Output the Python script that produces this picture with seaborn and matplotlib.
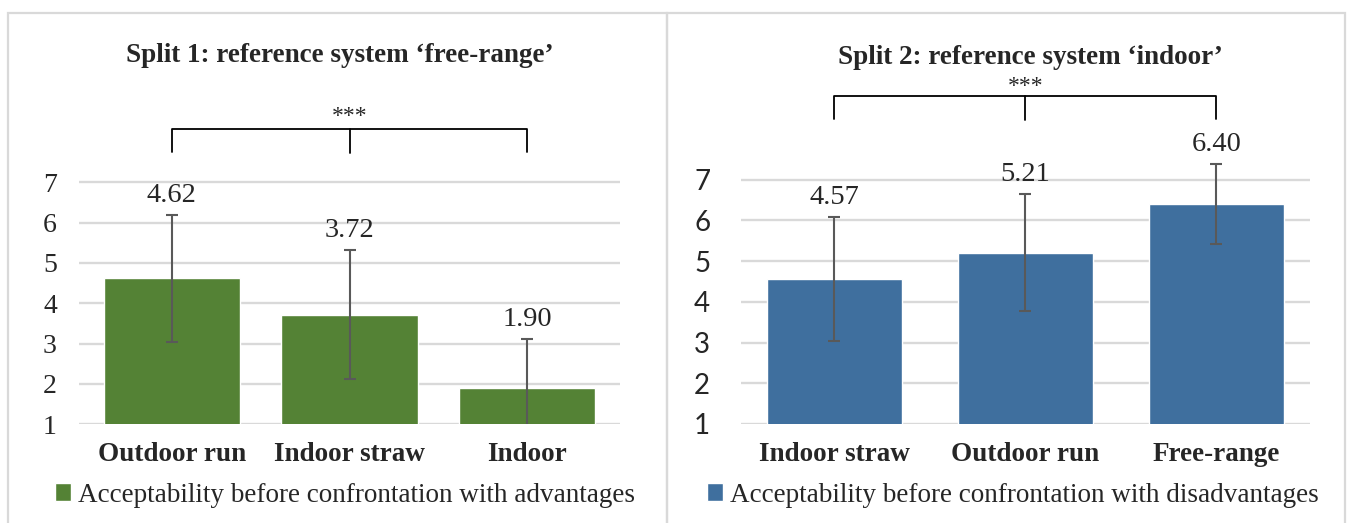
import matplotlib
matplotlib.use("Agg")
import matplotlib.pyplot as plt
from matplotlib.patches import Patch, Rectangle
import seaborn as sns

# ----------------------
# data
# ----------------------
split1_title = "Split 1: reference system \u2018free-range\u2019"
split1_cats = ["Outdoor run", "Indoor straw", "Indoor"]
split1_means = [4.62, 3.72, 1.90]
split1_sd = [1.57, 1.60, 1.21]
split1_legend = "Acceptability before confrontation with advantages"

split2_title = "Split 2: reference system \u2018indoor\u2019"
split2_cats = ["Indoor straw", "Outdoor run", "Free-range"]
split2_means = [4.57, 5.21, 6.40]
split2_sd = [1.52, 1.43, 0.99]
split2_legend = "Acceptability before confrontation with disadvantages"

y_ticks = [1, 2, 3, 4, 5, 6, 7]
sig_label = "***"

green = "#548235"
blue = "#3F6F9E"
err_col = "#595959"
grid_col = "#D9D9D9"

sns.set_style("white")
plt.rcParams["font.family"] = ["Liberation Serif", "DejaVu Serif"]

W, H = 1347, 523
fig = plt.figure(figsize=(W / 100, H / 100), dpi=100)


def px_axes(x0, x1, y_top, y_bot):
    return fig.add_axes([x0 / W, 1 - y_bot / H, (x1 - x0) / W, (y_bot - y_top) / H])


# panel frames
for x0, x1 in [(8, 667), (667, 1345)]:
    fig.patches.append(Rectangle((x0 / W, -0.05), (x1 - x0) / W, 1.05 - 13 / H,
                                 transform=fig.transFigure, fill=False,
                                 edgecolor=grid_col, lw=1.6))


def draw_panel(ax, cats, means, sd, color, width, bracket, tick_font, tick_pad):
    sns.barplot(x=cats, y=means, color=color, saturation=1, width=width,
                errorbar=None, ax=ax, zorder=2)
    ax.errorbar(range(len(cats)), means, yerr=sd, fmt="none", ecolor=err_col,
                elinewidth=1.5, capsize=4, capthick=1.5, zorder=3)
    ax.set_ylim(1, 9.5)
    ax.set_yticks(y_ticks)
    ax.yaxis.grid(True, color=grid_col, lw=1.7, zorder=0)
    ax.set_axisbelow(True)
    for s in ax.spines.values():
        s.set_visible(False)
    ax.tick_params(axis="both", length=0)
    ax.tick_params(axis="x", pad=13)
    ax.tick_params(axis="y", pad=tick_pad)
    ax.set_xlabel("")
    ax.set_ylabel("")
    for lab in ax.get_xticklabels():
        lab.set_fontweight("bold")
        lab.set_fontsize(19.5)
    for lab in ax.get_yticklabels():
        lab.set_family(tick_font)
        lab.set_fontsize(20)

    for i, (m, s) in enumerate(zip(means, sd)):
        ax.annotate(f"{m:.2f}", (i, m + s), xytext=(0, 14), textcoords="offset points",
                    ha="center", va="center", fontsize=20.5)

    # significance bracket
    top, leg, star = bracket
    n = len(cats)
    ax.plot([0, 0, n - 1, n - 1], [leg, top, top, leg], color="black", lw=1.3,
            clip_on=False)
    ax.plot([(n - 1) / 2, (n - 1) / 2], [top, leg - 0.03], color="black", lw=1.3,
            clip_on=False)
    ax.text((n - 1) / 2, star, sig_label, ha="center", va="center", fontsize=17)


ax1 = px_axes(79, 620, 81.5, 424.3)
draw_panel(ax1, split1_cats, split1_means, split1_sd, green, 0.765,
           (8.31, 7.76, 8.62), ["Liberation Serif"], 16)

ax2 = px_axes(740.7, 1310, 77.9, 424)
draw_panel(ax2, split2_cats, split2_means, split2_sd, blue, 0.71,
           (9.06, 8.49, 9.30), ["Lato", "DejaVu Sans"], 22)

fig.text(340 / W, 1 - 55 / H, split1_title, ha="center", va="center",
         fontsize=19.5, fontweight="bold")
fig.text(1030 / W, 1 - 57 / H, split2_title, ha="center", va="center",
         fontsize=19.5, fontweight="bold")

for ax, lab, col, x in [(ax1, split1_legend, green, 55), (ax2, split2_legend, blue, 707)]:
    fig.legend(handles=[Patch(facecolor=col, label=lab)], loc="center left",
               bbox_to_anchor=(x / W, 1 - 495 / H), frameon=False, fontsize=19.5,
               handlelength=0.6, handleheight=0.6, handletextpad=0.25,
               borderaxespad=0, borderpad=0)

fig.savefig("out.png", dpi=100, facecolor="white")
